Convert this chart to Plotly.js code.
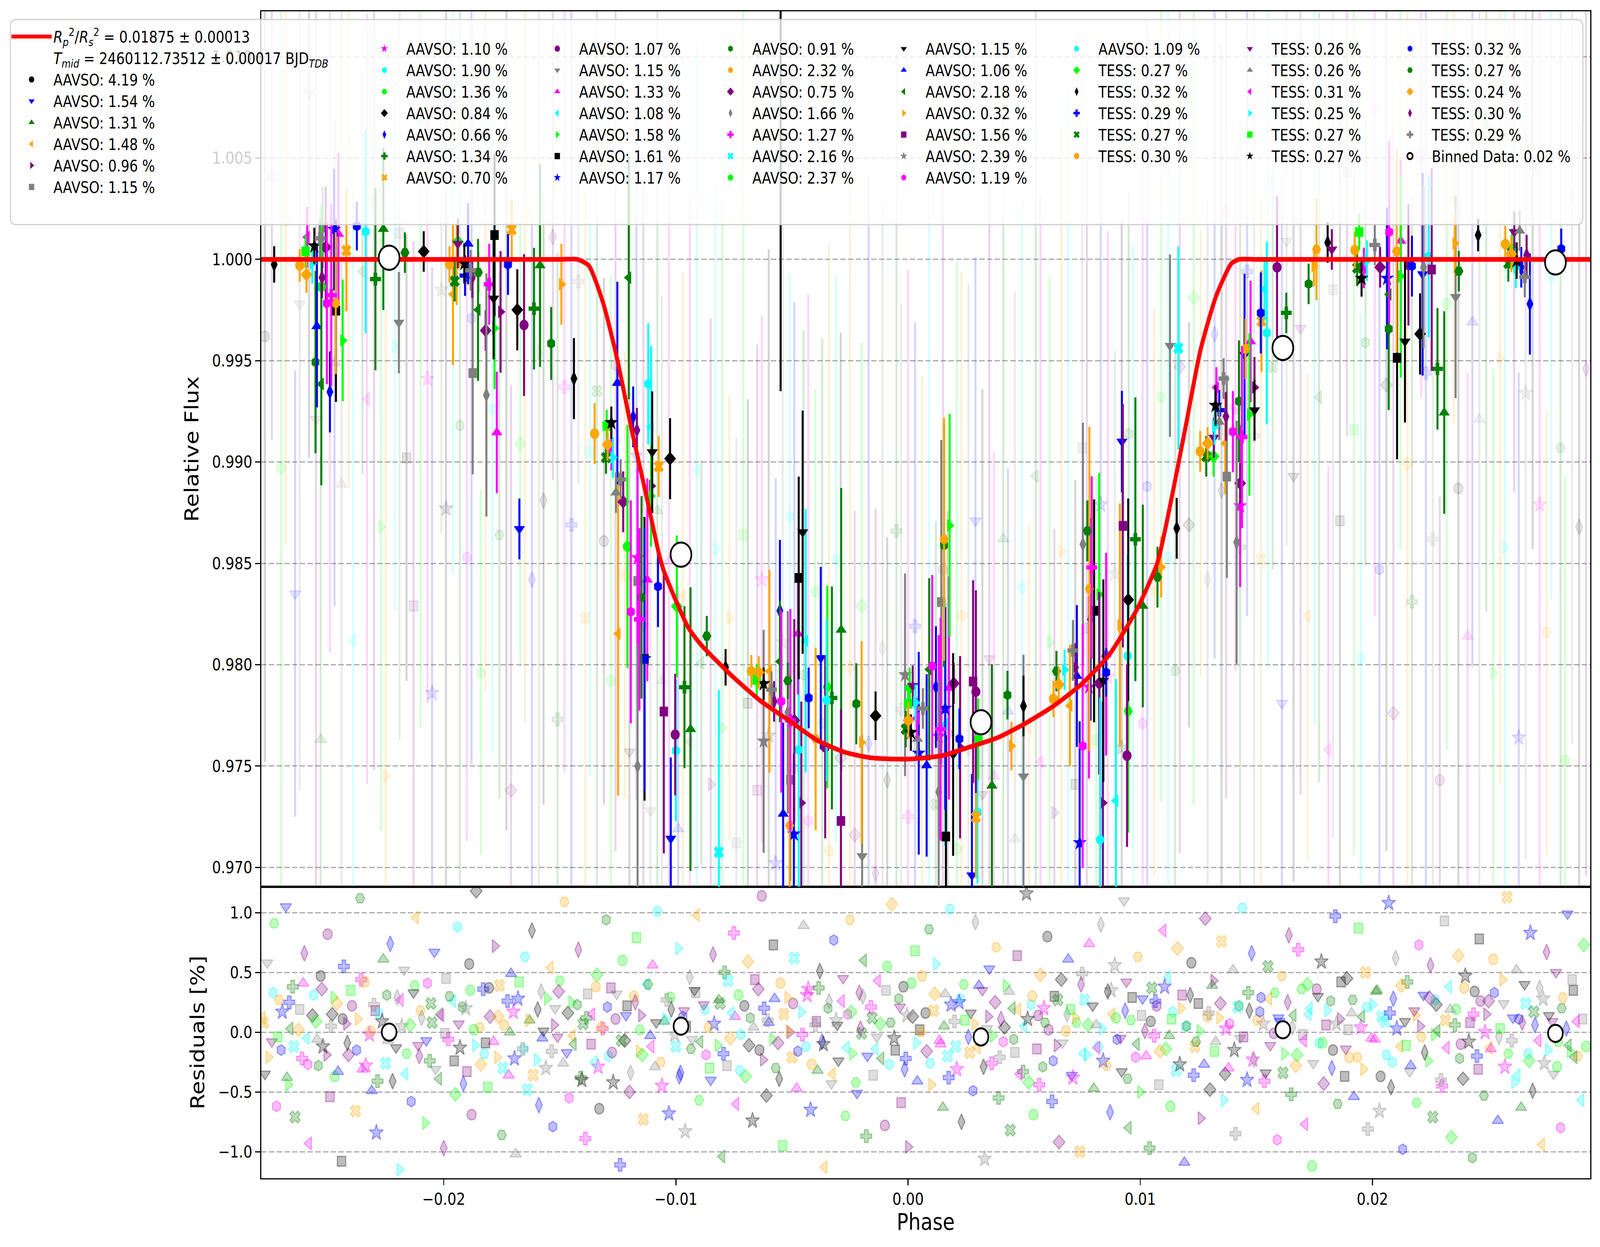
<!DOCTYPE html>
<html><head><meta charset="utf-8">
<script src="https://cdn.plot.ly/plotly-3.0.1.min.js"></script>
<style>html,body{margin:0;padding:0;background:#fff;overflow:hidden}#wrap{position:relative;overflow:hidden}#chart{width:4766px;height:3192px;transform-origin:0 0}</style>
</head><body><div id="wrap"><div id="chart"></div></div>
<script>
// ---------------- DATA ----------------
const dsLabels = ["AAVSO: 4.19 %","AAVSO: 1.54 %","AAVSO: 1.31 %","AAVSO: 1.48 %","AAVSO: 0.96 %","AAVSO: 1.15 %","AAVSO: 1.10 %","AAVSO: 1.90 %","AAVSO: 1.36 %","AAVSO: 0.84 %","AAVSO: 0.66 %","AAVSO: 1.34 %","AAVSO: 0.70 %","AAVSO: 1.07 %","AAVSO: 1.15 %","AAVSO: 1.33 %","AAVSO: 1.08 %","AAVSO: 1.58 %","AAVSO: 1.61 %","AAVSO: 1.17 %","AAVSO: 0.91 %","AAVSO: 2.32 %","AAVSO: 0.75 %","AAVSO: 1.66 %","AAVSO: 1.27 %","AAVSO: 2.16 %","AAVSO: 2.37 %","AAVSO: 1.15 %","AAVSO: 1.06 %","AAVSO: 2.18 %","AAVSO: 0.32 %","AAVSO: 1.56 %","AAVSO: 2.39 %","AAVSO: 1.19 %","AAVSO: 1.09 %","TESS: 0.27 %","TESS: 0.32 %","TESS: 0.29 %","TESS: 0.27 %","TESS: 0.30 %","TESS: 0.26 %","TESS: 0.26 %","TESS: 0.31 %","TESS: 0.25 %","TESS: 0.27 %","TESS: 0.27 %","TESS: 0.32 %","TESS: 0.27 %","TESS: 0.24 %","TESS: 0.30 %","TESS: 0.29 %"];
const modelLabel1 = "<i>R</i><sub><i>p</i></sub><sup>2</sup>/<i>R</i><sub><i>s</i></sub><sup>2</sup> = 0.01875 ± 0.00013";
const modelLabel2 = "<i>T</i><sub><i>mid</i></sub> = 2460112.73512 ± 0.00017 BJD<sub><i>TDB</i></sub>";
const binLabel = "Binned Data: 0.02 %";

// transit model
const modelPhase = [-0.02786,-0.0150,-0.01424,-0.01375,-0.01313,-0.01252,-0.01190,-0.01129,-0.01074,-0.01055,-0.01006,-0.00945,-0.00896,-0.00862,-0.00753,-0.00633,-0.00513,-0.00393,-0.00273,-0.00155,0.00001,0.00146,0.00266,0.00386,0.00506,0.00626,0.00745,0.00865,0.00985,0.01074,0.01128,0.01194,0.01259,0.01326,0.01392,0.01425,0.0150,0.02938];
const modelFlux  = [1.0,1.0,1.0,0.99969,0.99784,0.99504,0.99157,0.98843,0.98552,0.98473,0.98332,0.98180,0.98104,0.98062,0.97939,0.97819,0.97725,0.97628,0.97568,0.97540,0.97534,0.97551,0.97594,0.97640,0.97711,0.97796,0.97902,0.98047,0.98272,0.98504,0.98783,0.99167,0.99551,0.99817,0.99979,1.0,1.0,1.0];

// binned data (white circles)
const binPhase = [-0.02235,-0.00978,0.00314,0.01614,0.02788];
const binFlux  = [1.00008,0.98543,0.97716,0.99563,0.99985];
const binResid = [0.00,0.05,-0.04,0.02,-0.01];

// per-dataset binned points (solid markers with error bars)
const ptPhase = [
-0.02730,-0.02620,-0.02591,-0.02595,-0.02557,-0.02508,-0.02533,-0.02521,-0.02588,-0.02472,
-0.02453,-0.02374,-0.02336,-0.02260,-0.02419,-0.02566,-0.02524,-0.02527,-0.02484,-0.02503,
-0.02465,-0.02464,-0.02546,-0.02435,-0.02552,-0.02527,-0.02490,-0.02294,-0.02167,-0.02086,
-0.02193,-0.01585,-0.01939,-0.01939,-0.01895,-0.01781,-0.01707,-0.01975,-0.01944,-0.01911,
-0.01884,-0.01851,-0.01908,-0.01877,-0.01953,-0.01804,-0.01960,-0.01785,-0.01852,-0.01755,
-0.01683,-0.01611,-0.01654,-0.01819,-0.01781,-0.01723,-0.01537,-0.01493,-0.01875,-0.01816,
-0.01439,-0.01771,-0.01203,-0.01674,-0.01350,-0.01298,-0.01278,-0.01294,-0.01301,-0.01271,
-0.01278,-0.01184,-0.01168,-0.01252,-0.01119,-0.01107,-0.01102,-0.01025,-0.01074,-0.01238,
-0.01258,-0.01227,-0.01105,-0.01107,-0.01209,-0.01165,-0.01165,-0.01123,-0.01077,-0.01148,
-0.01194,-0.01157,-0.00996,-0.01249,-0.01135,-0.01135,-0.00963,-0.01052,-0.01003,-0.01000,
-0.00937,-0.01165,-0.01022,-0.00867,-0.00786,-0.00454,-0.00471,-0.00552,-0.00474,-0.00441,
-0.00552,-0.00288,-0.00376,-0.00675,-0.00643,-0.00597,-0.00652,-0.00622,-0.00588,-0.00518,
-0.00577,-0.00546,-0.00518,-0.00490,-0.00507,-0.00622,-0.00428,-0.00351,-0.00348,-0.00328,
-0.00223,-0.00140,-0.00200,-0.00357,-0.00471,-0.00398,-0.00507,-0.00538,-0.00510,-0.00492,
-0.00460,-0.00289,-0.00198,-0.00815,-0.00013,0.00020,0.00007,0.00000,0.00032,0.00064,
0.00001,0.00038,0.00012,-0.00010,0.00040,0.00046,0.00080,0.00104,0.00091,0.00120,
0.00143,0.00155,0.00155,0.00179,0.00197,0.00176,0.00160,0.00160,0.00140,0.00132,
0.00224,0.00221,0.00194,0.00132,0.00163,0.00280,0.00292,0.00302,0.00299,0.00292,
0.00275,0.00361,0.00428,0.00497,0.00497,0.00445,0.00925,0.00979,0.00772,0.00753,
0.00791,0.00781,0.00823,0.00948,0.00801,0.00786,0.00912,0.00710,0.00853,0.00946,
0.00721,0.00674,0.00639,0.00727,0.00853,0.00649,0.00823,0.00841,0.00779,0.00626,
0.00697,0.00948,0.00752,0.00943,0.00839,0.00895,0.00739,0.00827,0.00921,0.01011,
0.01074,0.01090,0.01157,0.01128,0.01164,0.01290,0.01258,0.01284,0.01316,0.01320,
0.01340,0.01317,0.01324,0.01340,0.01328,0.01359,0.01369,0.01366,0.01373,0.01399,
0.01430,0.01438,0.01430,0.01415,0.01425,0.01470,0.01492,0.01492,0.01449,0.01453,
0.01475,0.01519,0.01522,0.01535,0.01545,0.01589,0.01629,0.01725,0.01748,0.01807,
0.01943,0.01924,0.01934,0.01953,0.01963,0.01976,0.02010,0.02033,0.02063,0.02072,
0.02122,0.02104,0.02122,0.02170,0.02216,0.02255,0.02070,0.02106,0.02140,0.02205,
0.02242,0.02280,0.02309,0.02372,0.02358,0.02355,0.02455,0.02572,0.02611,0.02634,
0.02601,0.02598,0.02585,0.02621,0.02617,0.02641,0.02656,0.02664,0.02678,0.02813,
0.02071,0.02155,0.02220,0.01759,0.01825,-0.00549];
const ptFlux = [
0.99975,0.99970,0.99925,1.00039,1.00066,1.00060,1.00104,1.00158,1.00110,1.00147,
1.00125,1.00164,1.00137,1.00150,1.00044,0.99980,0.99910,0.99865,0.99823,0.99784,
0.99784,0.99747,0.99670,0.99600,0.99493,0.99385,0.99346,0.99903,1.00033,1.00039,
0.99688,0.99970,1.00077,1.00087,1.00077,1.00120,1.00147,0.99975,0.99975,0.99980,
0.99946,0.99936,0.99920,0.99910,0.99892,0.99877,0.99828,0.99807,0.99751,0.99741,
0.99751,0.99757,0.99676,0.99649,0.99660,0.99975,0.99585,0.99877,0.99439,0.99331,
0.99412,0.99146,0.99910,0.98670,0.99140,0.99178,0.99194,0.99086,0.99022,0.99022,
0.99059,0.99223,0.99157,0.99390,0.99385,0.99173,0.99049,0.99017,0.98978,0.98914,
0.98849,0.98804,0.98882,0.98832,0.98583,0.98527,0.98413,0.98419,0.98386,0.98332,
0.98261,0.98224,0.98288,0.98153,0.98029,0.98029,0.97889,0.97769,0.97655,0.97576,
0.97682,0.97499,0.97142,0.98141,0.97987,0.98654,0.98428,0.98266,0.98153,0.98118,
0.98016,0.98172,0.98033,0.97968,0.97962,0.97968,0.97925,0.97906,0.97877,0.97921,
0.97819,0.97819,0.97765,0.97725,0.97725,0.97622,0.97836,0.97825,0.97890,0.97836,
0.97807,0.97748,0.97617,0.97593,0.97580,0.97634,0.97432,0.97264,0.97206,0.97164,
0.97318,0.97229,0.97056,0.97075,0.97950,0.97896,0.97885,0.97807,0.97813,0.97784,
0.97725,0.97736,0.97665,0.97682,0.97634,0.97563,0.97503,0.97993,0.97977,0.97890,
0.98309,0.98619,0.98589,0.98687,0.97908,0.97885,0.97784,0.97705,0.97682,0.97646,
0.97593,0.97634,0.97557,0.97372,0.97152,0.97917,0.97867,0.97634,0.97271,0.97247,
0.96961,0.97403,0.97850,0.97796,0.97449,0.97599,0.98685,0.98619,0.98660,0.98594,
0.98480,0.98374,0.98347,0.98320,0.98266,0.98224,0.98195,0.98070,0.98052,0.98043,
0.97987,0.97975,0.97968,0.97944,0.97962,0.97902,0.97908,0.97921,0.97889,0.97831,
0.97798,0.97771,0.97599,0.97551,0.97318,0.97329,0.97121,0.97137,0.99101,0.98290,
0.98432,0.98482,0.98673,0.99574,0.99562,0.99092,0.99053,0.99028,0.99028,0.99175,
0.99198,0.99121,0.99279,0.99256,0.99368,0.99412,0.99225,0.99092,0.98928,0.99150,
0.98895,0.99123,0.98783,0.98604,0.99300,0.99234,0.99256,0.99368,0.99529,0.99558,
0.99595,0.99736,0.99695,0.99853,0.99637,0.99961,0.99736,0.99879,0.99967,1.00083,
1.00135,1.00046,0.99958,0.99906,0.99958,0.99994,1.00071,0.99961,0.99906,1.00135,
1.00091,1.00040,0.99917,0.99967,0.99927,0.99950,0.99657,0.99514,0.99595,0.99632,
1.00015,0.99460,0.99244,0.99942,0.99815,1.00079,1.00120,1.00075,1.00135,1.00141,
1.00052,1.00027,0.99980,0.99994,0.99958,0.99961,0.99913,1.00021,0.99780,1.00052,
0.99827,0.99973,0.99961,1.00049,1.00049,1.01250];
const ptErr = [
0.0009,0.0008,0.0009,0.0008,0.0009,0.0030,0.0010,0.0020,0.0015,0.0030,
0.0040,0.0012,0.0050,0.0040,0.0030,0.0010,0.0010,0.0040,0.0045,0.0040,
0.0035,0.0045,0.0040,0.0030,0.0045,0.0050,0.0020,0.0045,0.0010,0.0010,
0.0025,0.0050,0.0012,0.0012,0.0020,0.0040,0.0015,0.0009,0.0020,0.0010,
0.0010,0.0010,0.0010,0.0010,0.0010,0.0020,0.0035,0.0030,0.0035,0.0030,
0.0020,0.0030,0.0035,0.0010,0.0030,0.0015,0.0018,0.0020,0.0050,0.0060,
0.0020,0.0030,0.0060,0.0015,0.0015,0.0008,0.0008,0.0008,0.0008,0.0010,
0.0010,0.0015,0.0011,0.0050,0.0030,0.0040,0.0030,0.0020,0.0015,0.0010,
0.0010,0.0015,0.0010,0.0025,0.0060,0.0045,0.0060,0.0050,0.0020,0.0050,
0.0055,0.0045,0.0035,0.0080,0.0070,0.0065,0.0040,0.0070,0.0030,0.0035,
0.0070,0.0060,0.0040,0.0010,0.0009,0.0060,0.0050,0.0035,0.0030,0.0065,
0.0030,0.0070,0.0045,0.0008,0.0008,0.0050,0.0008,0.0008,0.0009,0.0009,
0.0010,0.0045,0.0050,0.0050,0.0055,0.0055,0.0015,0.0040,0.0050,0.0055,
0.0020,0.0012,0.0050,0.0045,0.0070,0.0045,0.0050,0.0045,0.0050,0.0040,
0.0050,0.0055,0.0060,0.0080,0.0050,0.0010,0.0010,0.0009,0.0009,0.0010,
0.0009,0.0010,0.0009,0.0009,0.0010,0.0050,0.0045,0.0045,0.0045,0.0030,
0.0080,0.0060,0.0060,0.0055,0.0010,0.0055,0.0050,0.0060,0.0055,0.0050,
0.0045,0.0015,0.0050,0.0055,0.0050,0.0050,0.0050,0.0020,0.0035,0.0030,
0.0050,0.0060,0.0012,0.0015,0.0060,0.0012,0.0060,0.0070,0.0015,0.0060,
0.0045,0.0080,0.0060,0.0050,0.0055,0.0050,0.0060,0.0015,0.0050,0.0050,
0.0012,0.0010,0.0010,0.0035,0.0012,0.0009,0.0045,0.0050,0.0045,0.0009,
0.0030,0.0060,0.0060,0.0045,0.0050,0.0060,0.0060,0.0070,0.0025,0.0050,
0.0015,0.0015,0.0015,0.0045,0.0050,0.0008,0.0010,0.0010,0.0010,0.0009,
0.0009,0.0010,0.0010,0.0010,0.0010,0.0010,0.0012,0.0025,0.0050,0.0020,
0.0010,0.0045,0.0040,0.0060,0.0030,0.0040,0.0015,0.0015,0.0040,0.0015,
0.0030,0.0020,0.0025,0.0015,0.0045,0.0035,0.0010,0.0010,0.0010,0.0010,
0.0009,0.0009,0.0009,0.0009,0.0010,0.0010,0.0010,0.0010,0.0035,0.0045,
0.0040,0.0050,0.0050,0.0015,0.0050,0.0050,0.0040,0.0050,0.0040,0.0020,
0.0040,0.0030,0.0050,0.0010,0.0050,0.0015,0.0008,0.0009,0.0010,0.0010,
0.0010,0.0009,0.0009,0.0009,0.0010,0.0010,0.0010,0.0010,0.0025,0.0010,
0.0020,0.0030,0.0040,0.0025,0.0010,0.0190];
const ptSet = [
36,39,48,44,45,22,50,5,42,19,
15,46,7,2,12,43,49,26,24,33,
21,18,28,17,20,29,10,11,47,9,
14,2,40,35,28,18,12,39,21,45,
50,47,37,49,38,24,3,27,29,4,
9,11,13,22,17,46,20,30,5,23,
36,15,29,1,39,44,45,48,38,43,
42,10,49,28,7,16,27,9,12,50,
41,22,4,17,26,6,5,15,46,20,
33,24,35,3,18,19,11,31,13,7,
2,23,1,47,36,27,18,10,15,16,
29,2,1,39,48,3,44,45,50,47,
49,33,23,22,24,32,46,34,8,11,
20,9,30,13,7,21,5,28,21,19,
4,31,14,25,32,40,35,44,43,50,
48,42,45,38,41,19,28,33,29,10,
5,21,20,17,22,15,19,16,24,6,
4,46,27,23,18,31,13,26,7,12,
1,2,20,36,14,30,31,11,47,23,
24,21,17,9,18,10,30,50,15,7,
49,43,47,28,46,48,22,27,6,39,
3,8,33,13,4,16,19,34,1,2,
47,30,36,14,25,48,39,38,35,43,
41,40,45,37,42,50,49,3,5,33,
22,24,6,23,20,17,27,4,1,21,
15,46,12,16,7,13,11,20,30,36,
44,39,38,45,42,43,50,22,19,33,
15,21,17,46,1,31,20,18,27,9,
7,11,2,47,14,30,36,39,40,41,
35,48,38,45,43,37,50,49,10,46,
29,13,23,21,40,0];

// faint unbinned observations (main panel)
const rawPhase = [
-0.0277,-0.0274,-0.0270,-0.0268,-0.0264,-0.0262,-0.0258,-0.0255,-0.0253,-0.0249,
-0.0247,-0.0244,-0.0241,-0.0239,-0.0235,-0.0233,-0.0230,-0.0227,-0.0225,-0.0221,
-0.0219,-0.0216,-0.0213,-0.0210,-0.0207,-0.0205,-0.0201,-0.0199,-0.0196,-0.0193,
-0.0190,-0.0188,-0.0184,-0.0182,-0.0179,-0.0176,-0.0173,-0.0171,-0.0167,-0.0165,
-0.0162,-0.0159,-0.0157,-0.0153,-0.0151,-0.0148,-0.0145,-0.0142,-0.0139,-0.0137,
-0.0134,-0.0131,-0.0128,-0.0126,-0.0122,-0.0120,-0.0117,-0.0114,-0.0111,-0.0108,
-0.0106,-0.0103,-0.0099,-0.0097,-0.0094,-0.0091,-0.0089,-0.0085,-0.0083,-0.0080,
-0.0077,-0.0074,-0.0071,-0.0069,-0.0065,-0.0063,-0.0060,-0.0057,-0.0054,-0.0051,
-0.0049,-0.0045,-0.0043,-0.0040,-0.0037,-0.0034,-0.0031,-0.0029,-0.0025,-0.0023,
-0.0020,-0.0017,-0.0014,-0.0011,-0.0009,-0.0005,-0.0003,0.0000,0.0003,0.0006,
0.0009,0.0012,0.0015,0.0017,0.0021,0.0023,0.0026,0.0029,0.0032,0.0035,
0.0037,0.0041,0.0043,0.0046,0.0049,0.0052,0.0055,0.0057,0.0061,0.0063,
0.0066,0.0069,0.0072,0.0075,0.0077,0.0081,0.0083,0.0086,0.0089,0.0092,
0.0095,0.0097,0.0101,0.0103,0.0106,0.0109,0.0112,0.0115,0.0117,0.0121,
0.0123,0.0126,0.0129,0.0132,0.0135,0.0137,0.0141,0.0143,0.0146,0.0149,
0.0152,0.0155,0.0157,0.0161,0.0163,0.0166,0.0169,0.0172,0.0175,0.0177,
0.0181,0.0183,0.0186,0.0189,0.0192,0.0195,0.0197,0.0201,0.0203,0.0206,
0.0209,0.0212,0.0215,0.0217,0.0221,0.0223,0.0226,0.0229,0.0232,0.0235,
0.0237,0.0241,0.0243,0.0246,0.0249,0.0252,0.0255,0.0257,0.0261,0.0263,
0.0266,0.0269,0.0272,0.0275,0.0277,0.0281,0.0283,0.0286,0.0289,0.0292];
const rawFlux = [
0.9962,1.0041,0.9897,1.0019,0.9835,0.9978,1.0082,0.9921,0.9763,1.0006,
0.9949,0.9889,1.0057,0.9812,0.9994,0.9931,1.0028,0.9868,0.9745,0.9957,
1.0013,0.9902,0.9829,1.0069,0.9941,0.9786,0.9985,0.9877,1.0035,0.9918,
0.9853,0.9971,0.9796,1.0047,0.9926,0.9864,0.9998,0.9738,0.9909,1.0022,
0.9842,0.9954,0.9881,1.0011,0.9773,0.9937,0.9869,0.9989,0.9823,0.9905,
0.9935,0.9861,0.9792,0.9948,0.9844,0.9757,0.9903,0.9819,0.9728,0.9876,
0.9792,0.9851,0.9719,0.9834,0.9762,0.9896,0.9801,0.9741,0.9857,0.9769,
0.9823,0.9712,0.9864,0.9781,0.9738,0.9842,0.9765,0.9702,0.9811,0.9873,
0.9749,0.9795,0.9723,0.9836,0.9771,0.9708,0.9852,0.9754,0.9799,0.9716,
0.9829,0.9761,0.9697,0.9808,0.9743,0.9866,0.9778,0.9725,0.9819,0.9752,
0.9789,0.9731,0.9847,0.9766,0.9709,0.9824,0.9758,0.9871,0.9736,0.9803,
0.9745,0.9862,0.9777,0.9714,0.9838,0.9769,0.9893,0.9752,0.9811,0.9727,
0.9856,0.9784,0.9741,0.9907,0.9818,0.9763,0.9879,0.9794,0.9845,0.9759,
0.9914,0.9827,0.9771,0.9888,0.9836,0.9932,0.9853,0.9797,0.9947,0.9869,
0.9981,0.9904,0.9842,0.9963,0.9886,1.0024,0.9927,0.9858,0.9994,0.9913,
0.9852,1.0038,0.9947,0.9781,1.0009,0.9893,0.9966,0.9824,1.0061,0.9932,
0.9758,0.9985,0.9871,1.0043,0.9916,0.9803,0.9959,1.0074,0.9847,0.9938,
0.9776,1.0017,0.9899,0.9831,1.0052,0.9944,0.9862,0.9743,0.9978,1.0029,
0.9887,0.9814,0.9969,0.9921,1.0066,0.9796,0.9951,0.9858,1.0005,0.9764,
0.9934,1.0047,0.9879,0.9816,0.9992,0.9907,0.9753,1.0031,0.9868,0.9946];
const rawErr = [
0.021,0.013,0.027,0.016,0.011,0.024,0.018,0.029,0.014,0.020,
0.012,0.026,0.017,0.022,0.010,0.019,0.028,0.015,0.023,0.013,
0.025,0.011,0.018,0.030,0.016,0.021,0.012,0.027,0.019,0.024,
0.014,0.022,0.009,0.026,0.017,0.013,0.028,0.020,0.011,0.025,
0.018,0.029,0.015,0.012,0.023,0.019,0.026,0.010,0.021,0.016,
0.027,0.013,0.020,0.024,0.011,0.028,0.017,0.022,0.014,0.030,
0.019,0.025,0.012,0.016,0.027,0.021,0.010,0.023,0.018,0.026,
0.011,0.020,0.029,0.015,0.022,0.013,0.024,0.019,0.028,0.012,
0.023,0.017,0.026,0.010,0.019,0.030,0.014,0.021,0.025,0.016,
0.013,0.028,0.018,0.022,0.012,0.024,0.020,0.027,0.015,0.019,
0.026,0.014,0.021,0.011,0.029,0.017,0.023,0.013,0.020,0.025,
0.016,0.022,0.012,0.027,0.019,0.010,0.024,0.028,0.018,0.014,
0.021,0.030,0.015,0.019,0.025,0.013,0.017,0.022,0.011,0.026,
0.012,0.018,0.028,0.023,0.014,0.020,0.027,0.016,0.024,0.010,
0.025,0.011,0.019,0.016,0.022,0.029,0.013,0.021,0.017,0.028,
0.018,0.024,0.010,0.026,0.015,0.020,0.023,0.012,0.029,0.019,
0.014,0.027,0.022,0.013,0.021,0.017,0.011,0.025,0.016,0.023,
0.029,0.016,0.024,0.020,0.012,0.026,0.019,0.014,0.022,0.011,
0.020,0.013,0.017,0.028,0.024,0.015,0.021,0.030,0.012,0.018,
0.023,0.019,0.026,0.011,0.016,0.022,0.014,0.027,0.020,0.025];
const rawSet = [
0,13,26,39,1,14,27,40,2,15, 28,41,3,16,29,42,4,17,30,43,
5,18,31,44,6,19,32,45,7,20, 33,46,8,21,34,47,9,22,35,48,
10,23,36,49,11,24,37,50,12,25, 38,0,26,13,39,27,1,40,14,2,
41,15,28,3,42,16,29,4,43,17, 30,5,44,18,31,6,45,19,32,7,
46,20,33,8,47,21,34,9,48,22, 35,10,49,23,36,11,50,24,37,12,
25,38,13,0,26,39,14,1,27,40, 15,2,28,41,16,3,29,42,17,4,
30,43,18,5,31,44,19,6,32,45, 20,7,33,46,21,8,34,47,22,9,
35,48,23,10,36,49,24,11,37,50, 12,25,38,1,14,27,40,3,16,29,
42,5,18,31,44,7,20,33,46,9, 22,35,48,11,24,37,50,13,26,39,
0,15,28,41,2,17,30,43,4,19, 32,45,6,21,34,47,8,23,36,49];

// faint residuals (lower panel, %) - wide scatter group
const resPhase = [
-0.0278,-0.0277,-0.0276,-0.0274,-0.0273,-0.0272,-0.0271,-0.0270,-0.0268,-0.0267,
-0.0266,-0.0265,-0.0264,-0.0262,-0.0261,-0.0260,-0.0259,-0.0258,-0.0256,-0.0255,
-0.0254,-0.0253,-0.0252,-0.0250,-0.0249,-0.0248,-0.0247,-0.0246,-0.0244,-0.0243,
-0.0242,-0.0241,-0.0240,-0.0238,-0.0237,-0.0236,-0.0235,-0.0234,-0.0232,-0.0231,
-0.0230,-0.0229,-0.0228,-0.0226,-0.0225,-0.0224,-0.0223,-0.0222,-0.0220,-0.0219,
-0.0218,-0.0217,-0.0216,-0.0214,-0.0213,-0.0212,-0.0211,-0.0210,-0.0208,-0.0207,
-0.0206,-0.0205,-0.0204,-0.0202,-0.0201,-0.0200,-0.0199,-0.0198,-0.0196,-0.0195,
-0.0194,-0.0193,-0.0192,-0.0190,-0.0189,-0.0188,-0.0187,-0.0186,-0.0184,-0.0183,
-0.0182,-0.0181,-0.0180,-0.0178,-0.0177,-0.0176,-0.0175,-0.0174,-0.0172,-0.0171,
-0.0170,-0.0169,-0.0168,-0.0166,-0.0165,-0.0164,-0.0163,-0.0162,-0.0160,-0.0159,
-0.0158,-0.0157,-0.0156,-0.0154,-0.0153,-0.0152,-0.0151,-0.0150,-0.0148,-0.0147,
-0.0146,-0.0145,-0.0144,-0.0142,-0.0141,-0.0140,-0.0139,-0.0138,-0.0136,-0.0135,
-0.0134,-0.0133,-0.0132,-0.0130,-0.0129,-0.0128,-0.0127,-0.0126,-0.0124,-0.0123,
-0.0122,-0.0121,-0.0120,-0.0118,-0.0117,-0.0116,-0.0115,-0.0114,-0.0112,-0.0111,
-0.0110,-0.0109,-0.0108,-0.0106,-0.0105,-0.0104,-0.0103,-0.0102,-0.0100,-0.0099,
-0.0098,-0.0097,-0.0096,-0.0094,-0.0093,-0.0092,-0.0091,-0.0090,-0.0088,-0.0087,
-0.0086,-0.0085,-0.0084,-0.0082,-0.0081,-0.0080,-0.0079,-0.0078,-0.0076,-0.0075,
-0.0074,-0.0073,-0.0072,-0.0070,-0.0069,-0.0068,-0.0067,-0.0066,-0.0064,-0.0063,
-0.0062,-0.0061,-0.0060,-0.0058,-0.0057,-0.0056,-0.0055,-0.0054,-0.0052,-0.0051,
-0.0050,-0.0049,-0.0048,-0.0046,-0.0045,-0.0044,-0.0043,-0.0042,-0.0040,-0.0039,
-0.0038,-0.0037,-0.0036,-0.0034,-0.0033,-0.0032,-0.0031,-0.0030,-0.0028,-0.0027,
-0.0026,-0.0025,-0.0024,-0.0022,-0.0021,-0.0020,-0.0019,-0.0018,-0.0016,-0.0015,
-0.0014,-0.0013,-0.0012,-0.0010,-0.0009,-0.0008,-0.0007,-0.0006,-0.0004,-0.0003,
-0.0002,-0.0001,0.0000,0.0002,0.0003,0.0004,0.0005,0.0006,0.0008,0.0009,
0.0010,0.0011,0.0012,0.0014,0.0015,0.0016,0.0017,0.0018,0.0020,0.0021,
0.0022,0.0023,0.0024,0.0026,0.0027,0.0028,0.0029,0.0030,0.0032,0.0033,
0.0034,0.0035,0.0036,0.0038,0.0039,0.0040,0.0041,0.0042,0.0044,0.0045,
0.0046,0.0047,0.0048,0.0050,0.0051,0.0052,0.0053,0.0054,0.0056,0.0057,
0.0058,0.0059,0.0060,0.0062,0.0063,0.0064,0.0065,0.0066,0.0068,0.0069,
0.0070,0.0071,0.0072,0.0074,0.0075,0.0076,0.0077,0.0078,0.0080,0.0081,
0.0082,0.0083,0.0084,0.0086,0.0087,0.0088,0.0089,0.0090,0.0092,0.0093,
0.0094,0.0095,0.0096,0.0098,0.0099,0.0100,0.0101,0.0102,0.0104,0.0105,
0.0106,0.0107,0.0108,0.0110,0.0111,0.0112,0.0113,0.0114,0.0116,0.0117,
0.0118,0.0119,0.0120,0.0122,0.0123,0.0124,0.0125,0.0126,0.0128,0.0129,
0.0130,0.0131,0.0132,0.0134,0.0135,0.0136,0.0137,0.0138,0.0140,0.0141,
0.0142,0.0143,0.0144,0.0146,0.0147,0.0148,0.0149,0.0150,0.0152,0.0153,
0.0154,0.0155,0.0156,0.0158,0.0159,0.0160,0.0161,0.0162,0.0164,0.0165,
0.0166,0.0167,0.0168,0.0170,0.0171,0.0172,0.0173,0.0174,0.0176,0.0177,
0.0178,0.0179,0.0180,0.0182,0.0183,0.0184,0.0185,0.0186,0.0188,0.0189,
0.0190,0.0191,0.0192,0.0194,0.0195,0.0196,0.0197,0.0198,0.0200,0.0201,
0.0202,0.0203,0.0204,0.0206,0.0207,0.0208,0.0209,0.0210,0.0212,0.0213,
0.0214,0.0215,0.0216,0.0218,0.0219,0.0220,0.0221,0.0222,0.0224,0.0225,
0.0226,0.0227,0.0228,0.0230,0.0231,0.0232,0.0233,0.0234,0.0236,0.0237,
0.0238,0.0239,0.0240,0.0242,0.0243,0.0244,0.0245,0.0246,0.0248,0.0249,
0.0250,0.0251,0.0252,0.0254,0.0255,0.0256,0.0257,0.0258,0.0260,0.0261,
0.0262,0.0263,0.0264,0.0266,0.0267,0.0268,0.0269,0.0270,0.0272,0.0273,
0.0274,0.0275,0.0276,0.0278,0.0279,0.0280,0.0281,0.0282,0.0284,0.0285,
0.0286,0.0287,0.0288,0.0290,0.0291,0.0292];
const resVal = [
0.12,-0.35,0.58,-0.08,0.91,-0.62,0.27,-0.15,1.05,-0.44,
0.03,0.38,-0.71,0.19,-0.22,0.66,-0.05,-0.93,0.31,0.09,
-0.28,0.47,-0.12,0.82,-0.54,0.15,-0.37,0.24,-1.08,0.55,
0.07,-0.19,0.35,-0.66,0.11,1.12,-0.31,0.42,-0.02,-0.49,
0.23,-0.84,0.16,0.61,-0.26,-0.07,0.74,-0.41,0.29,-1.15,
0.05,0.52,-0.18,-0.58,0.33,0.96,-0.11,0.18,-0.76,0.41,
-0.24,0.08,0.67,-0.39,0.14,-0.97,0.45,-0.06,0.26,-0.52,
0.88,-0.13,0.21,-0.33,0.57,-0.69,0.02,1.18,-0.27,0.36,
-0.09,-0.46,0.13,0.72,-0.21,0.39,-0.86,0.06,-0.36,0.49,
0.17,-1.02,0.28,-0.14,0.63,-0.48,0.10,0.85,-0.23,-0.61,
0.34,0.01,-0.30,0.54,-0.79,0.20,-0.04,0.43,1.09,-0.17,
-0.55,0.25,-0.10,0.69,-0.38,0.07,-0.89,0.32,0.15,-0.25,
0.48,-0.64,0.04,0.94,-0.20,0.37,-0.42,0.11,-1.11,0.60,
-0.07,0.22,-0.50,0.30,0.79,-0.16,0.14,-0.73,0.40,-0.03,
0.56,-0.29,1.01,-0.45,0.09,0.27,-0.68,0.19,-0.12,0.70,
-0.34,0.13,-0.83,0.46,-0.06,0.35,0.98,-0.57,0.23,-0.19,
0.04,-0.40,0.65,-0.11,0.24,-1.04,0.50,-0.28,0.16,0.83,
-0.60,0.31,-0.02,-0.37,0.59,0.12,-0.74,0.44,-0.15,1.14,
0.20,-0.53,0.08,0.73,-0.30,-0.09,0.41,-0.95,0.29,0.00,
-0.21,0.62,-0.47,0.17,0.89,-0.12,0.36,-0.65,0.06,-0.32,
0.51,-0.08,-1.13,0.26,-0.43,0.77,0.10,-0.24,0.45,-0.70,
0.15,0.94,-0.18,-0.51,0.33,-0.01,0.60,-0.87,0.21,-0.36,
-0.14,0.43,0.07,-0.78,0.55,-0.27,1.07,-0.05,0.28,-0.59,
0.38,-0.22,-0.96,0.13,0.68,-0.41,0.02,0.47,-0.16,0.86,
-0.44,0.18,0.57,-0.10,-0.63,0.32,-0.20,1.03,0.09,-0.31,
0.25,-0.75,0.40,-0.04,0.16,-0.49,0.92,-0.13,0.35,-1.06,
0.03,0.53,-0.26,0.71,-0.55,0.11,-0.08,0.39,-0.82,0.20,
-0.17,0.64,-0.35,0.05,1.16,-0.42,0.23,-0.69,0.14,0.48,
-0.29,0.08,0.80,-0.58,0.30,-0.11,-0.92,0.44,0.01,0.61,
0.19,-0.38,0.12,-1.00,0.49,0.27,-0.19,0.74,-0.47,0.06,
-0.12,0.90,-0.24,0.34,-0.67,0.15,0.56,-0.06,-0.33,1.10,
0.42,-0.80,0.10,-0.21,0.63,-0.50,0.28,0.01,-0.97,0.37,
-0.03,0.22,-0.44,0.85,-0.14,0.46,-0.62,0.17,0.70,-0.27,
0.31,-1.09,0.05,0.58,-0.36,-0.08,0.24,-0.72,0.95,0.13,
-0.48,0.39,-0.16,0.12,0.76,-0.57,0.03,-0.30,0.52,-0.85,
0.21,-0.05,1.04,-0.40,0.18,0.66,-0.23,-0.64,0.29,0.07,
-0.34,0.55,-0.11,0.33,-0.90,0.09,0.47,-0.18,0.81,-0.52,
0.14,-0.28,0.69,-0.02,-0.77,0.40,0.20,-1.12,0.36,-0.09,
0.59,-0.43,0.06,0.26,-0.15,0.97,-0.60,0.11,-0.37,0.45,
-0.21,0.16,-0.54,0.87,0.04,-0.31,0.50,-0.81,0.23,-0.06,
0.35,-0.66,0.13,-0.19,1.08,-0.46,0.28,0.62,-0.12,-0.98,
0.09,0.42,-0.33,0.18,-0.59,0.73,-0.04,0.31,-0.24,0.56,
-0.71,0.27,0.01,-0.45,0.93,-0.13,0.38,-0.88,0.19,0.64,
-0.10,-0.39,0.47,0.08,-1.05,0.34,-0.20,0.78,-0.53,0.15,
0.26,-0.14,0.61,-0.74,0.03,0.44,-0.29,1.13,-0.07,-0.42,
0.52,0.11,-0.63,0.24,-0.18,0.83,-0.49,0.06,0.37,-0.94,
-0.26,0.67,0.14,-0.35,0.50,-0.08,-0.80,0.29,0.99,-0.16,
0.44,-0.21,0.09,-0.57,0.73,-0.12];
const resSet = [
3,27,14,40,8,33,21,46,1,17, 29,11,38,5,24,49,16,42,7,35,
20,0,45,13,31,9,26,48,18,37, 4,22,44,12,30,47,15,39,6,28,
50,19,34,2,25,41,10,36,23,43, 32,14,8,46,27,3,40,21,17,33,
11,38,1,29,42,49,5,24,16,35, 7,45,20,31,0,13,26,9,48,37,
18,44,22,4,30,12,47,39,15,28, 6,41,19,50,34,25,2,36,43,10,
23,27,32,3,46,14,40,8,21,1, 33,17,29,49,11,38,24,5,42,16,
35,0,48,20,7,31,45,13,37,26, 9,18,22,39,44,30,4,12,47,28,
15,41,34,6,2,50,19,36,25,43, 10,46,32,23,14,27,3,8,40,33,
21,1,49,17,38,29,11,5,16,24, 42,26,7,35,48,20,45,31,0,13,
37,9,28,18,47,22,39,44,30,4, 12,25,15,43,41,34,6,19,50,2,
36,10,3,23,14,46,32,27,40,8, 33,21,17,1,49,38,29,11,24,5,
16,42,35,13,26,7,48,45,20,31, 0,37,4,9,44,28,18,39,22,47,
30,12,43,15,2,41,25,34,50,6, 19,36,8,10,27,46,23,3,40,32,
14,1,24,21,11,49,33,17,38,29, 5,31,42,16,45,35,7,26,13,48,
20,47,0,37,18,4,22,9,39,28, 44,6,30,12,50,25,43,15,2,41,
34,23,19,36,10,3,32,46,27,14, 40,29,8,33,21,17,1,49,11,38,
24,13,5,42,35,16,26,7,48,45, 31,28,20,0,37,47,18,4,22,39,
9,2,44,30,12,43,6,15,41,50, 25,14,34,19,36,10,23,3,46,32,
27,38,40,8,33,1,21,17,49,11, 29,48,24,5,42,35,16,26,13,7,
45,22,31,20,0,37,47,4,18,9, 39,41,28,44,6,30,12,50,43,15,
2,32,25,34,19,36,10,23,3,46, 27,11,14,40,8,33,21,1,17,49,
38,7,29,24,5,42,16,35,26,48, 13,9,45,31,20,0,37,18,47,4,
22,15,39,28,44,30,6,12,50,43, 41,46,2,25,34,19,36,10,23,3,
32,49,27,14,40,8,33,21,1,17, 5,29,42,16,35,26];

// faint residuals - dense central band group
const resPhaseB = [
-0.02775,-0.02755,-0.02735,-0.02715,-0.02695,-0.02675,-0.02665,-0.02645,-0.02625,-0.02605,
-0.02585,-0.02565,-0.02545,-0.02525,-0.02505,-0.02485,-0.02475,-0.02455,-0.02435,-0.02415,
-0.02395,-0.02375,-0.02355,-0.02335,-0.02315,-0.02295,-0.02285,-0.02265,-0.02245,-0.02225,
-0.02205,-0.02185,-0.02165,-0.02145,-0.02125,-0.02105,-0.02095,-0.02075,-0.02055,-0.02035,
-0.02015,-0.01995,-0.01975,-0.01955,-0.01935,-0.01915,-0.01905,-0.01885,-0.01865,-0.01845,
-0.01825,-0.01805,-0.01785,-0.01765,-0.01745,-0.01725,-0.01715,-0.01695,-0.01675,-0.01655,
-0.01635,-0.01615,-0.01595,-0.01575,-0.01555,-0.01535,-0.01525,-0.01505,-0.01485,-0.01465,
-0.01445,-0.01425,-0.01405,-0.01385,-0.01365,-0.01345,-0.01335,-0.01315,-0.01295,-0.01275,
-0.01255,-0.01235,-0.01215,-0.01195,-0.01175,-0.01155,-0.01145,-0.01125,-0.01105,-0.01085,
-0.01065,-0.01045,-0.01025,-0.01005,-0.00985,-0.00965,-0.00955,-0.00935,-0.00915,-0.00895,
-0.00875,-0.00855,-0.00835,-0.00815,-0.00795,-0.00775,-0.00765,-0.00745,-0.00725,-0.00705,
-0.00685,-0.00665,-0.00645,-0.00625,-0.00605,-0.00585,-0.00575,-0.00555,-0.00535,-0.00515,
-0.00495,-0.00475,-0.00455,-0.00435,-0.00415,-0.00395,-0.00385,-0.00365,-0.00345,-0.00325,
-0.00305,-0.00285,-0.00265,-0.00245,-0.00225,-0.00205,-0.00195,-0.00175,-0.00155,-0.00135,
-0.00115,-0.00095,-0.00075,-0.00055,-0.00035,-0.00015,-0.00005,0.00015,0.00035,0.00055,
0.00075,0.00095,0.00115,0.00135,0.00155,0.00175,0.00185,0.00205,0.00225,0.00245,
0.00265,0.00285,0.00305,0.00325,0.00345,0.00365,0.00375,0.00395,0.00415,0.00435,
0.00455,0.00475,0.00495,0.00515,0.00535,0.00555,0.00565,0.00585,0.00605,0.00625,
0.00645,0.00665,0.00685,0.00705,0.00725,0.00745,0.00755,0.00775,0.00795,0.00815,
0.00835,0.00855,0.00875,0.00895,0.00915,0.00935,0.00945,0.00965,0.00985,0.01005,
0.01025,0.01045,0.01065,0.01085,0.01105,0.01125,0.01135,0.01155,0.01175,0.01195,
0.01215,0.01235,0.01255,0.01275,0.01295,0.01315,0.01325,0.01345,0.01365,0.01385,
0.01405,0.01425,0.01445,0.01465,0.01485,0.01505,0.01515,0.01535,0.01555,0.01575,
0.01595,0.01615,0.01635,0.01655,0.01675,0.01695,0.01705,0.01725,0.01745,0.01765,
0.01785,0.01805,0.01825,0.01845,0.01865,0.01885,0.01895,0.01915,0.01935,0.01955,
0.01975,0.01995,0.02015,0.02035,0.02055,0.02075,0.02085,0.02105,0.02125,0.02145,
0.02165,0.02185,0.02205,0.02225,0.02245,0.02265,0.02275,0.02295,0.02315,0.02335,
0.02355,0.02375,0.02395,0.02415,0.02435,0.02455,0.02465,0.02485,0.02505,0.02525,
0.02545,0.02565,0.02585,0.02605,0.02625,0.02645,0.02655,0.02675,0.02695,0.02715,
0.02735,0.02755,0.02775,0.02795,0.02815,0.02835,0.02845,0.02865,0.02885,0.02905];
const resValB = [
0.08,-0.21,0.33,-0.04,0.17,-0.38,0.25,-0.12,0.02,0.41,
-0.27,0.14,-0.06,0.36,-0.19,0.05,0.29,-0.33,0.11,-0.09,
0.22,-0.15,0.44,-0.28,0.01,0.18,-0.41,0.09,0.31,-0.02,
-0.13,0.27,-0.35,0.06,0.39,-0.20,0.12,-0.07,0.24,-0.31,
0.15,-0.01,0.30,-0.24,0.07,-0.43,0.20,0.35,-0.11,0.04,
-0.18,0.37,-0.08,0.13,-0.30,0.26,0.00,-0.22,0.42,-0.14,
0.10,-0.36,0.19,-0.05,0.28,-0.16,0.06,0.34,-0.26,0.16,
-0.03,0.23,-0.40,0.12,-0.10,0.38,-0.29,0.03,0.21,-0.17,
0.32,-0.07,0.14,-0.34,0.25,0.02,-0.19,0.40,-0.12,0.08,
-0.25,0.11,0.29,-0.02,-0.37,0.18,0.05,-0.14,0.33,-0.08,
0.19,-0.30,0.07,0.27,-0.18,0.43,-0.05,0.13,-0.32,0.22,
-0.11,0.04,0.36,-0.23,0.10,-0.06,0.28,-0.39,0.15,0.01,
0.24,-0.16,-0.02,0.31,-0.27,0.09,0.37,-0.10,0.20,-0.35,
0.06,0.26,-0.13,0.17,-0.42,0.03,0.30,-0.20,0.12,-0.04,
-0.22,0.35,0.08,-0.15,0.21,-0.31,0.14,0.41,-0.09,0.00,
0.16,-0.26,0.32,-0.07,0.05,-0.38,0.23,-0.12,0.28,0.10,
-0.17,0.07,0.39,-0.29,0.13,-0.03,0.25,-0.21,0.04,0.34,
-0.06,0.19,-0.33,0.11,0.30,-0.14,-0.44,0.20,0.02,-0.24,
0.27,-0.09,0.15,-0.36,0.08,0.40,-0.18,0.06,0.22,-0.13,
0.03,-0.28,0.35,0.12,-0.05,0.18,-0.39,0.29,-0.10,0.14,
-0.20,0.09,0.26,-0.16,0.38,-0.03,0.11,-0.32,0.20,0.05,
0.31,-0.12,0.01,-0.27,0.16,0.43,-0.08,0.24,-0.35,0.07,
-0.15,0.22,-0.04,0.33,-0.23,0.10,0.17,-0.41,0.28,-0.01,
0.12,-0.34,0.25,0.04,-0.19,0.36,-0.07,0.15,-0.26,0.30,
-0.09,0.18,-0.30,0.07,0.42,-0.14,0.02,0.27,-0.21,0.13,
0.21,-0.05,0.34,-0.37,0.09,0.16,-0.25,0.03,0.39,-0.11,
-0.28,0.14,0.05,-0.17,0.29,-0.02,0.23,-0.40,0.10,0.19,
0.06,-0.22,0.37,-0.08,0.15,-0.31,0.26,0.00,-0.13,0.33,
-0.04,0.24,-0.18,0.12,-0.36,0.08,0.40,-0.24,0.17,-0.07,
0.28,-0.15,0.09,-0.29,0.20,0.03,-0.11,0.35,-0.20,0.11];
const resSetB = [
12,30,7,44,19,2,37,25,48,15, 33,9,41,22,4,50,17,28,0,36,
13,46,24,6,39,31,11,45,20,3, 27,42,16,35,8,49,23,1,38,14,
29,5,47,18,40,10,32,26,43,21, 34,0,15,48,25,37,2,19,44,7,
30,12,36,28,17,50,4,22,41,9, 3,20,45,11,31,39,6,24,46,13,
14,38,1,23,49,8,35,16,42,27, 21,43,26,32,10,40,18,47,5,29,
7,44,19,2,37,25,48,15,34,0, 9,41,22,4,50,17,28,36,12,30,
13,46,24,6,39,31,11,45,20,3, 27,42,16,35,8,49,23,1,38,14,
29,5,47,18,40,10,32,26,43,21, 0,34,48,15,2,37,19,25,7,44,
12,30,28,36,4,17,22,50,9,41, 20,3,11,45,39,31,24,6,13,46,
38,14,23,1,8,49,16,35,27,42, 43,21,32,26,40,10,47,18,29,5,
15,0,37,48,19,2,44,25,30,7, 36,12,17,28,50,4,41,22,9,33,
45,20,31,11,6,39,46,24,3,13, 1,38,49,23,35,8,42,16,14,27,
26,43,10,32,18,40,5,47,21,29, 34,15,2,0,25,37,7,19,48,44,
28,30,4,36,22,17,9,50,12,41, 11,20,39,45,24,31,13,6,3,46,
23,14,8,1,16,49,27,35,38,42, 32,43,40,26,47,10,29,18,21,5];

// ---------------- STYLE ----------------
const colorCycle = ['#000000','#0000ff','#008000','#ffa500','#800080','#808080','#ff00ff','#00ffff','#00ff00'];
const symbolCycle = ['circle','triangle-down','triangle-up','triangle-left','triangle-right','square','star','hexagon','hexagon2','diamond','diamond-tall','cross','x'];
const symbolSize = {'circle':27,'triangle-down':29,'triangle-up':29,'triangle-left':29,'triangle-right':29,'square':25,'star':31,'hexagon':27,'hexagon2':27,'diamond':27,'diamond-tall':29,'cross':27,'x':27};
const legendBreaks = [6,13,20,27,34,40,46,51];
const legendXs = [-0.18919,0.07628,0.20637,0.33670,0.46704,0.59712,0.72746,0.84794];
const FONT = 'DejaVu Sans';
function rgba(h,a){const r=parseInt(h.slice(1,3),16),g=parseInt(h.slice(3,5),16),b=parseInt(h.slice(5,7),16);return 'rgba('+r+','+g+','+b+','+a+')';}
function legendOf(i){for(let k=0;k<legendBreaks.length;k++){if(i<legendBreaks[k]) return k===0?'legend':'legend'+(k+1);} return 'legend8';}
function pick(arr, setArr, s){const out=[];for(let i=0;i<arr.length;i++){if(setArr[i]===s) out.push(arr[i]);}return out;}

const nSets = dsLabels.length;
const traces = [];
for (let s=0;s<nSets;s++){
  const c=colorCycle[s%9], sym=symbolCycle[s%13];
  traces.push({type:'scatter',mode:'markers',xaxis:'x2',yaxis:'y',showlegend:false,hoverinfo:'skip',
    x:pick(rawPhase,rawSet,s),y:pick(rawFlux,rawSet,s),
    error_y:{type:'data',array:pick(rawErr,rawSet,s),visible:true,color:rgba(c,0.17),thickness:6,width:0},
    marker:{symbol:sym,size:symbolSize[sym],color:rgba(c,0.10),line:{width:3,color:rgba(c,0.13)}}});
}
for (let s=0;s<nSets;s++){
  const c=colorCycle[s%9], sym=symbolCycle[s%13];
  const xs=pick(resPhase,resSet,s).concat(pick(resPhaseB,resSetB,s));
  const ys=pick(resVal,resSet,s).concat(pick(resValB,resSetB,s));
  traces.push({type:'scatter',mode:'markers',xaxis:'x',yaxis:'y2',showlegend:false,hoverinfo:'skip',
    x:xs,y:ys,marker:{symbol:sym,size:symbolSize[sym],color:rgba(c,0.26),line:{width:3,color:rgba(c,0.36)}}});
}
for (let s=0;s<nSets;s++){
  const c=colorCycle[s%9], sym=symbolCycle[s%13];
  traces.push({type:'scatter',mode:'markers',xaxis:'x2',yaxis:'y',name:dsLabels[s],legend:legendOf(s),legendrank:10+s,legendgroup:'g'+s,hoverinfo:'skip',
    x:pick(ptPhase,ptSet,s),y:pick(ptFlux,ptSet,s),
    error_y:{type:'data',array:pick(ptErr,ptSet,s),visible:true,color:c,thickness:6,width:0},
    marker:{symbol:sym,size:symbolSize[sym],color:c,line:{width:0}}});
}
traces.push({type:'scatter',mode:'lines',xaxis:'x2',yaxis:'y',name:modelLabel1,legend:'legend',legendrank:1,legendgroup:'m1',hoverinfo:'skip',
  x:modelPhase,y:modelFlux,line:{color:'#ff0000',width:12,shape:'spline',smoothing:0.6}});
traces.push({type:'scatter',mode:'lines',xaxis:'x2',yaxis:'y',name:modelLabel2,legend:'legend',legendrank:2,legendgroup:'m2',hoverinfo:'skip',
  x:[null],y:[null],line:{color:'rgba(0,0,0,0)',width:1}});
traces.push({type:'scatter',mode:'markers',xaxis:'x2',yaxis:'y',name:binLabel,legend:'legend8',legendrank:1000,legendgroup:'b',hoverinfo:'skip',
  x:binPhase,y:binFlux,marker:{symbol:'circle',size:62,color:'#ffffff',line:{color:'#000000',width:5}}});
traces.push({type:'scatter',mode:'markers',xaxis:'x',yaxis:'y2',showlegend:false,hoverinfo:'skip',
  x:binPhase,y:binResid,marker:{symbol:'circle',size:44,color:'#ffffff',line:{color:'#000000',width:5}}});

// ---------------- LAYOUT ----------------
const W=4766,H=3192;
const axL=778, axR=4737, axT=29, axB=3016, axMid=2270;
const plotW=axR-axL, plotH=axB-axT;
const split=(axB-axMid)/plotH;
const common={showline:true,mirror:true,linecolor:'#000',linewidth:3,zeroline:false,
  ticks:'outside',ticklen:15,tickwidth:3,tickcolor:'#000',tickfont:{family:FONT,size:42,color:'#000'}};
const gridY={showgrid:true,gridcolor:'#a8a8a8',gridwidth:3,griddash:'16px,7px'};

const layout={
  width:W,height:H,paper_bgcolor:'#fff',plot_bgcolor:'#fff',
  margin:{l:axL,r:W-axR,t:axT,b:H-axB,pad:0},
  font:{family:FONT,size:40,color:'#000'},
  xaxis:Object.assign({},common,{domain:[0,1],anchor:'y2',range:[-0.02786,0.02938],tickvals:[-0.02,-0.01,0,0.01,0.02],tickformat:'.2f',showgrid:false,
    title:{text:'Phase',font:{family:FONT,size:58},standoff:14}}),
  xaxis2:Object.assign({},common,{domain:[0,1],anchor:'y',matches:'x',range:[-0.02786,0.02938],showticklabels:false,ticks:'',showgrid:false}),
  yaxis:Object.assign({},common,gridY,{domain:[split,1],anchor:'x2',range:[0.96904,1.01224],
    tickvals:[0.970,0.975,0.980,0.985,0.990,0.995,1.000,1.005,1.010],tickformat:'.3f',
    title:{text:'Relative Flux',font:{family:FONT,size:58},standoff:22}}),
  yaxis2:Object.assign({},common,gridY,{domain:[0,split],anchor:'x',range:[-1.222,1.216],
    tickvals:[-1,-0.5,0,0.5,1],tickformat:'.1f',
    title:{text:'Residuals [%]',font:{family:FONT,size:58},standoff:22}}),
  showlegend:true,
  shapes:[],
};
(function(){
  const x0=(31-axL)/plotW, x1=(4715-axL)/plotW, y1=(axB-50)/plotH, y0=(axB-575)/plotH;
  const rx=18/plotW, ry=18/plotH;
  const p='M'+(x0+rx)+','+y0+' L'+(x1-rx)+','+y0+' Q'+x1+','+y0+' '+x1+','+(y0+ry)+' L'+x1+','+(y1-ry)+' Q'+x1+','+y1+' '+(x1-rx)+','+y1+' L'+(x0+rx)+','+y1+' Q'+x0+','+y1+' '+x0+','+(y1-ry)+' L'+x0+','+(y0+ry)+' Q'+x0+','+y0+' '+(x0+rx)+','+y0+' Z';
  layout.shapes.push({type:'path',xref:'paper',yref:'paper',path:p,fillcolor:'rgba(255,255,255,0.8)',line:{color:'#cccccc',width:3},layer:'above'});
})();
for (let k=0;k<8;k++){
  const key=k===0?'legend':'legend'+(k+1);
  layout[key]={x:legendXs[k],y:k===0?0.98929:0.97891,xanchor:'left',yanchor:'top',bgcolor:'rgba(0,0,0,0)',borderwidth:0,
    font:{family:FONT,size:40,color:'#000'},itemwidth:120,traceorder:'normal',tracegroupgap:8.5,valign:'middle'};
}
// the browser viewport may be narrower than the 4766x3192 canvas: map the figure onto the whole viewport
const sx=window.innerWidth/W, sy=window.innerHeight/H;
document.getElementById('wrap').style.width=window.innerWidth+'px';
document.getElementById('wrap').style.height=window.innerHeight+'px';
document.getElementById('chart').style.transform='scale('+sx+','+sy+')';
Plotly.newPlot('chart',traces,layout,{staticPlot:true,displayModeBar:false});
</script></body></html>
